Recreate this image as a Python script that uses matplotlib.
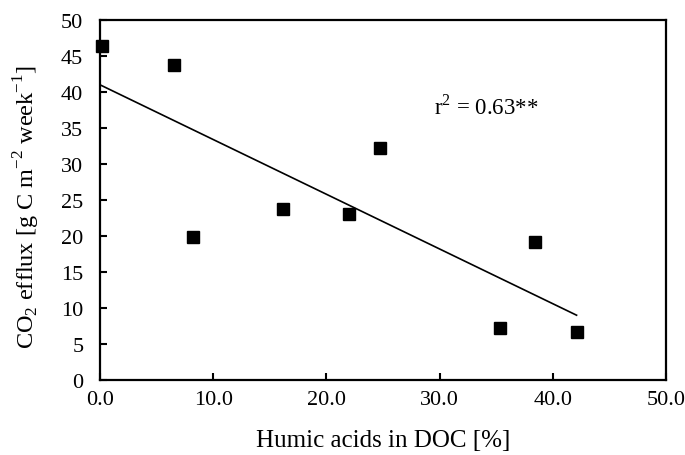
import matplotlib
matplotlib.use("Agg")
import matplotlib.pyplot as plt
from matplotlib.ticker import FormatStrFormatter

humic_pct = [0.15, 6.5, 8.2, 16.2, 22.0, 24.7, 35.3, 38.4, 42.1]
co2_efflux = [46.4, 43.8, 19.9, 23.8, 23.0, 32.2, 7.2, 19.2, 6.6]

# trend line as drawn in the original
trend_x = [0.0, 42.1]
trend_y = [41.0, 9.0]

x_ticks = [0, 10, 20, 30, 40, 50]
y_ticks = [0, 5, 10, 15, 20, 25, 30, 35, 40, 45, 50]

plt.rcParams["font.family"] = ["Liberation Serif", "DejaVu Serif"]
plt.rcParams["mathtext.fontset"] = "custom"
plt.rcParams["mathtext.rm"] = "Liberation Serif"

fig = plt.figure(figsize=(6.85, 4.56), dpi=100)
ax = fig.add_axes([100 / 685, 1 - 381 / 456, 566 / 685, 360 / 456])

ax.plot(trend_x, trend_y, color="black", lw=1.2, zorder=2)
ax.plot(humic_pct, co2_efflux, "s", color="black", ms=8.6, clip_on=False, zorder=3)

ax.set_xlim(0, 50)
ax.set_ylim(0, 50)
ax.set_xticks(x_ticks)
ax.set_yticks(y_ticks)
ax.xaxis.set_major_formatter(FormatStrFormatter("%.1f"))
ax.tick_params(direction="in", length=5, width=1.5, labelsize=16, pad=7)
ax.tick_params(axis="y", pad=12)
for s in ax.spines.values():
    s.set_linewidth(1.6)

ax.text(29.5, 38.0, r"r$^{2}$ = 0.63**", fontsize=16.5, va="center")

ax.set_xlabel("Humic acids in DOC [%]", fontsize=18)
ax.set_ylabel(r"CO$_{2}$ efflux [g C m$^{-2}$ week$^{-1}$]", fontsize=17.5)
ax.xaxis.set_label_coords(0.5, -0.136)
ax.yaxis.set_label_coords(-0.103, 0.482)

fig.savefig("out.png", dpi=100)
